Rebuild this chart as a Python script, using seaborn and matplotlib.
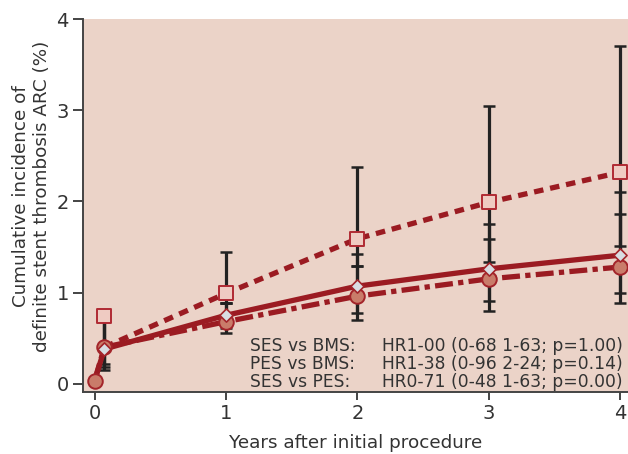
import matplotlib
matplotlib.use("Agg")
import matplotlib.pyplot as plt
import seaborn as sns
import numpy as np
import pandas as pd

# years after procedure (first follow-up at ~1 month)
years = [0.075, 1, 2, 3, 4]

# cumulative incidence (%)
bms_y = [0.03, 0.40, 0.68, 0.96, 1.15, 1.28]   # includes year 0
ses_y = [0.03, 0.38, 0.75, 1.07, 1.26, 1.41]
pes_y = [0.74, 0.99, 1.59, 1.99, 2.32]
pes_line_y = [0.40, 0.99, 1.59, 1.99, 2.32]

# confidence interval ends (lower / upper)
pes_lo = [0.21, 0.89, 1.29, 1.34, 1.51]
pes_hi = [0.74, 1.44, 2.38, 3.05, 3.71]
ses_lo = [0.18, 0.61, 0.78, 0.91, 0.99]
ses_hi = [0.74, 0.89, 1.42, 1.75, 2.10]
bms_lo = [0.15, 0.56, 0.70, 0.80, 0.88]
bms_hi = [0.74, 0.89, 1.29, 1.59, 1.86]

comparisons = ["SES vs BMS:", "PES vs BMS:", "SES vs PES:"]
hr_texts = ["HR1-00 (0-68 1-63; p=1.00)",
            "HR1-38 (0-96 2-24; p=0.14)",
            "HR0-71 (0-48 1-63; p=0.00)"]

sns.set_theme(style="ticks")
plt.rcParams["font.family"] = ["DejaVu Sans"]

bg = "#EBD3C8"
red = "#9B1B22"
txt = "#333333"

fig = plt.figure(figsize=(6.28, 4.54), dpi=100)
ax = fig.add_axes([0.1317, 0.137, 0.8683, 0.8205])
ax.set_facecolor(bg)
fig.patch.set_facecolor("white")

x_all = [0] + years

# error bars
for lo, hi in [(pes_lo, pes_hi), (ses_lo, ses_hi), (bms_lo, bms_hi)]:
    lo = np.array(lo)
    hi = np.array(hi)
    mid = (lo + hi) / 2
    ax.errorbar(years, mid, yerr=(hi - lo) / 2, fmt="none", ecolor="#222222",
                elinewidth=2.3, capsize=4.5, capthick=1.8, zorder=2)

lw = 3.8
bms_df = pd.DataFrame({"x": x_all, "y": bms_y})
ses_df = pd.DataFrame({"x": x_all, "y": ses_y})
pes_line_df = pd.DataFrame({"x": years, "y": pes_line_y})

sns.lineplot(data=bms_df, x="x", y="y", ax=ax, color=red, lw=lw, sort=False,
             estimator=None, linestyle=(0, (3.4, 1.0, 1.0, 1.0)), zorder=3)
sns.lineplot(data=ses_df, x="x", y="y", ax=ax, color=red, lw=lw, sort=False,
             estimator=None, zorder=3)
sns.lineplot(data=pes_line_df, x="x", y="y", ax=ax, color=red, lw=lw, sort=False,
             estimator=None, linestyle=(0, (1.8, 1.3)), zorder=3)

sns.scatterplot(x=years, y=pes_y, ax=ax, marker="s", s=95, color="#EFCBC2",
                edgecolor="#B02A33", linewidth=1.4, zorder=4)
sns.scatterplot(x=x_all, y=bms_y, ax=ax, marker="o", s=110, color="#C97C6A",
                edgecolor="#A3242A", linewidth=1.4, zorder=4)
sns.scatterplot(x=years, y=ses_y[1:], ax=ax, marker="D", s=45, color="#D9DDE2",
                edgecolor="#A3242A", linewidth=1.2, zorder=5)

ax.set_xlim(-0.09, 4.06)
ax.set_ylim(-0.09, 4.0)
ax.set_xticks([0, 1, 2, 3, 4])
ax.set_yticks([0, 1, 2, 3, 4])
ax.tick_params(axis="both", colors="#444444", labelcolor=txt, labelsize=14,
               width=1.4)
ax.tick_params(axis="x", length=6, pad=3)
ax.tick_params(axis="y", length=7, pad=3)
for side in ["top", "right"]:
    ax.spines[side].set_visible(False)
for side in ["left", "bottom"]:
    ax.spines[side].set_color("#444444")
    ax.spines[side].set_linewidth(1.4)

ax.set_xlabel("Years after initial procedure", fontsize=13.2, color=txt)
ax.set_ylabel("Cumulative incidence of\ndefinite stent thrombosis ARC (%)",
              fontsize=13.2, color=txt, linespacing=1.25)
ax.xaxis.set_label_coords(0.5, -0.112)
ax.yaxis.set_label_coords(-0.058, 0.525)

for i, (c, h) in enumerate(zip(comparisons, hr_texts)):
    yy = 0.110 - i * 0.049
    ax.text(0.307, yy, c, transform=ax.transAxes, fontsize=12.3, color=txt, va="baseline")
    ax.text(0.548, yy, h, transform=ax.transAxes, fontsize=12.3, color=txt, va="baseline")

fig.savefig("out.png", dpi=100)
